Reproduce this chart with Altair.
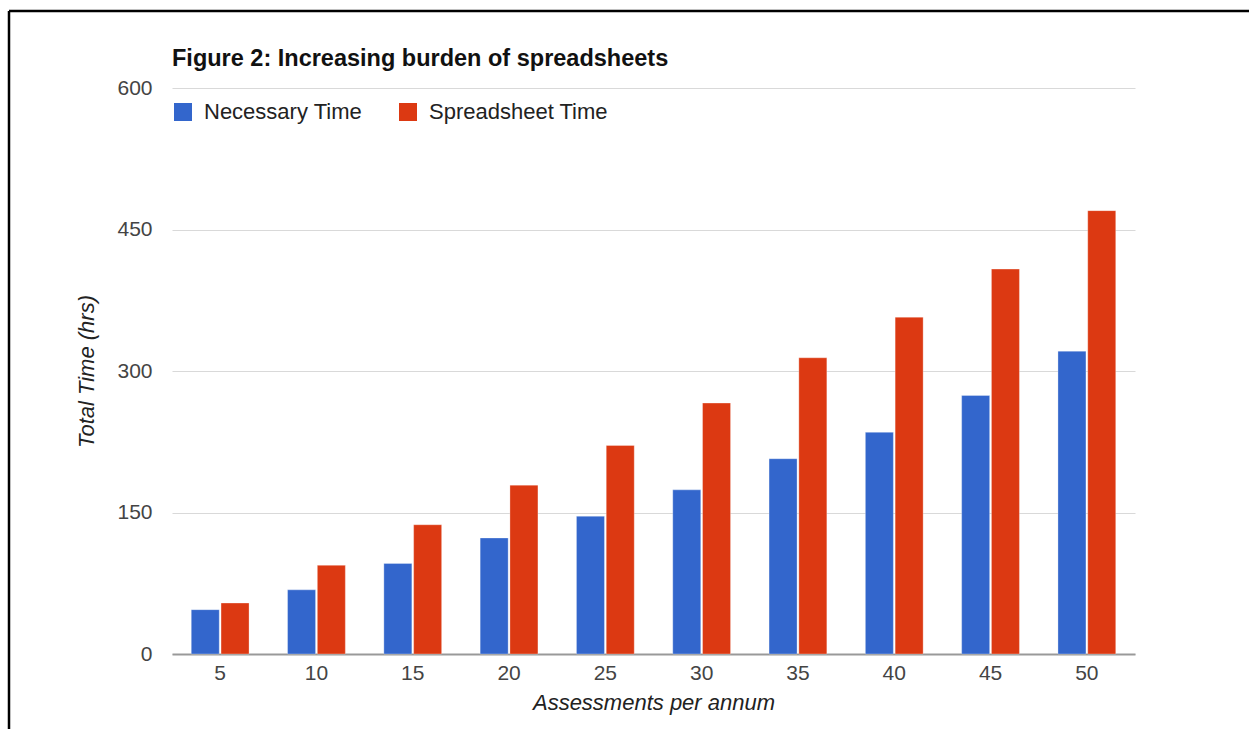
import altair as alt
import pandas as pd

assessments = [5, 10, 15, 20, 25, 30, 35, 40, 45, 50]
necessary_time = [47, 68, 96, 123, 146, 174, 207, 235, 274, 321]
spreadsheet_time = [54, 94, 137, 179, 221, 266, 314, 357, 408, 470]
series = ["Necessary Time", "Spreadsheet Time"]
colors = ["#3366CC", "#DC3912"]
title_text = "Figure 2: Increasing burden of spreadsheets"

rows = []
for a, n, s in zip(assessments, necessary_time, spreadsheet_time):
    rows.append({"Assessments": a, "Series": series[0], "Time": n})
    rows.append({"Assessments": a, "Series": series[1], "Time": s})
df = pd.DataFrame(rows)

FONT = "Liberation Sans"

bars = alt.Chart(df).mark_bar(stroke="white", strokeWidth=0.5, strokeOpacity=0.6).encode(
    x=alt.X("Assessments:O",
            scale=alt.Scale(paddingInner=0.4, paddingOuter=0.2),
            axis=alt.Axis(title="Assessments per annum", labelAngle=0, labelFontSize=21,
                          labelColor="#444444", labelPadding=8, ticks=False,
                          domainColor="#999999", domainWidth=2,
                          titleFontSize=22, titleFontStyle="italic", titleFontWeight="normal",
                          titleColor="#222222", titlePadding=9)),
    xOffset=alt.XOffset("Series:N", sort=series, scale=alt.Scale(paddingInner=0.06)),
    y=alt.Y("Time:Q",
            scale=alt.Scale(domain=[0, 600]),
            axis=alt.Axis(title="Total Time (hrs)", values=[0, 150, 300, 450, 600],
                          labelFontSize=21, labelColor="#444444", labelPadding=20,
                          ticks=False, domain=False, gridColor="#d9d9d9", gridWidth=1,
                          titleFontSize=22, titleFontStyle="italic", titleFontWeight="normal",
                          titleColor="#222222", titlePadding=18)),
    color=alt.Color("Series:N", sort=series,
                    scale=alt.Scale(domain=series, range=colors),
                    legend=alt.Legend(title=None, orient="none", legendX=0, legendY=13,
                                      direction="horizontal", symbolType="square",
                                      symbolSize=324, symbolStrokeWidth=0,
                                      labelFontSize=22, labelColor="#222222", labelLimit=400,
                                      labelOffset=10, columnPadding=34, padding=0)),
)

title = alt.Chart(alt.Data(values=[{"t": title_text}])).mark_text(
    align="left", baseline="alphabetic", fontSize=23.5, fontWeight="bold",
    color="#111111", font=FONT).encode(
    x=alt.value(0), y=alt.value(-22), text="t:N")

frame_top = alt.Chart(alt.Data(values=[{}])).mark_rule(color="black", strokeWidth=2.5).encode(
    x=alt.value(-163), x2=alt.value(1077), y=alt.value(-77))
frame_left = alt.Chart(alt.Data(values=[{}])).mark_rule(color="black", strokeWidth=2.5).encode(
    x=alt.value(-163), y=alt.value(-77), y2=alt.value(641))

chart = alt.layer(bars, title, frame_top, frame_left).properties(
    width=963, height=566,
    autosize=alt.AutoSizeParams(type="none"),
    padding={"left": 172, "top": 88, "right": 114, "bottom": 75},
).configure(font=FONT).configure_view(stroke=None)

chart.save("out.html", embed_options={"renderer": "svg", "actions": False})
